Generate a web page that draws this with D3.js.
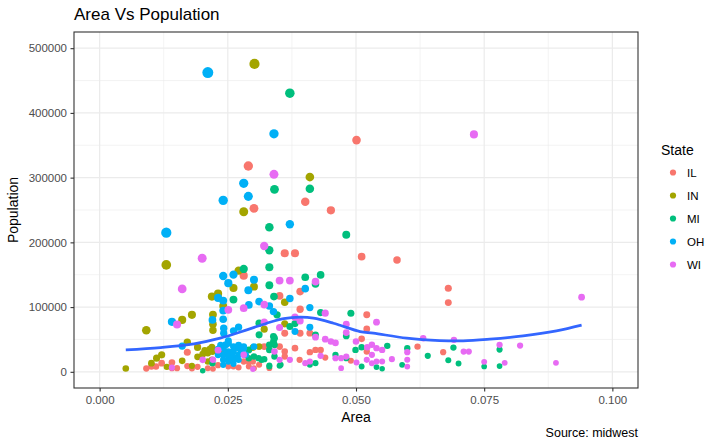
<!DOCTYPE html>
<html lang="en">
<head>
    <meta charset="UTF-8">
    <title>Area Vs Population</title>
    <style>
        body {
            margin: 0;
            background: #fff;
        }

        svg {
            display: block;
            font-family: "Liberation Sans", Arial, sans-serif;
        }
    </style>
</head>
<body>
    <svg id="chart" width="720" height="445"></svg>

    <script src="https://cdn.jsdelivr.net/npm/d3@7/dist/d3.min.js"></script>
    <script>
        // values
        const states = ["IL", "IN", "MI", "OH", "WI"];
        const stateColors = ["#F8766D", "#A3A500", "#00BF7D", "#00B0F6", "#E76BF3"];

        const ilArea = [0.0501, 0.0290, 0.0401, 0.0301, 0.0451, 0.0361, 0.0381, 0.0511, 0.0580, 0.0281,
            0.0351, 0.0391, 0.0680, 0.0680, 0.0391, 0.0521, 0.0521, 0.0361, 0.0391, 0.0410,
            0.0511, 0.0620, 0.0670, 0.0171, 0.0191, 0.0171, 0.0091, 0.0101, 0.0110, 0.0121,
            0.0141, 0.0141, 0.0151, 0.0180, 0.0191, 0.0211, 0.0221, 0.0231, 0.0251, 0.0261,
            0.0271, 0.0281, 0.0291, 0.0291, 0.0299, 0.0301, 0.0311, 0.0331, 0.0321, 0.0351,
            0.0361, 0.0361, 0.0381, 0.0410, 0.0421, 0.0431, 0.0440, 0.0390, 0.0490, 0.0521];
        const ilPop = [358000, 317900, 262800, 252600, 249500, 183200, 183200, 177900, 172800, 148600,
            117300, 123900, 129100, 106900, 96700, 88000, 66300, 59700, 59700, 59700,
            50900, 39000, 30400, 30400, 39000, 8800, 5100, 8200, 8200, 13400,
            14300, 5700, 5700, 5100, 7700, 5700, 4600, 10300, 8200, 8200,
            6600, 15900, 15000, 8200, 15900, 5700, 11000, 5700, 39000, 39000,
            31300, 23600, 36600, 30400, 33900, 33900, 22100, 18500, 17000, 31300];

        const inArea = [0.0302, 0.0410, 0.0281, 0.0130, 0.0271, 0.0301, 0.0261, 0.0231, 0.0219, 0.0361,
            0.0241, 0.0221, 0.0180, 0.0161, 0.0221, 0.0361, 0.0321, 0.0221, 0.0091, 0.0171,
            0.0219, 0.0299, 0.0311, 0.0191, 0.0215, 0.0220, 0.0205, 0.0211, 0.0201, 0.0121,
            0.0191, 0.0111, 0.0219, 0.0161, 0.0211, 0.0101, 0.0180, 0.0131, 0.0051, 0.0241];
        const inPop = [475700, 300900, 247300, 165100, 156300, 131600, 129600, 120800, 116200, 107500,
            101800, 88400, 88000, 80200, 73600, 74100, 65900, 64300, 64300, 45800,
            38000, 37500, 39000, 37500, 35000, 31300, 33000, 28900, 27300, 26200,
            23100, 21100, 18500, 17000, 15900, 13400, 9300, 7700, 5100, 33900];

        const miArea = [0.0371, 0.0341, 0.0410, 0.0331, 0.0481, 0.0331, 0.0331, 0.0281, 0.0431, 0.0401,
            0.0421, 0.0331, 0.0340, 0.0261, 0.0431, 0.0490, 0.0346, 0.0311, 0.0381, 0.0371,
            0.0421, 0.0311, 0.0481, 0.0339, 0.0341, 0.0339, 0.0341, 0.0331, 0.0561, 0.0511,
            0.0600, 0.0690, 0.0780, 0.0291, 0.0331, 0.0499, 0.0460, 0.0640, 0.0341, 0.0301,
            0.0291, 0.0310, 0.0481, 0.0321, 0.0316, 0.0680, 0.0220, 0.0421, 0.0700, 0.0410,
            0.0590, 0.0353, 0.0331, 0.0351, 0.0780, 0.0750, 0.0511, 0.0331, 0.0540, 0.0551,
            0.0201];
        const miPop = [430500, 281900, 282800, 223300, 211900, 187800, 161600, 158900, 149700, 146100,
            135800, 133800, 116200, 111600, 91500, 90600, 88000, 75100, 74500, 69900,
            57100, 57100, 55500, 54500, 52000, 46800, 41700, 41700, 40100, 38100,
            36600, 37500, 34400, 33900, 33900, 33900, 26200, 24700, 23600, 23600,
            21100, 21100, 21100, 19600, 18500, 18000, 13400, 13400, 12800, 10800,
            10800, 10800, 9700, 9300, 8800, 8200, 8200, 8200, 7300, 4600,
            1500];

        const ohArea = [0.0211, 0.0340, 0.0281, 0.0290, 0.0241, 0.0371, 0.0130, 0.0261, 0.0241, 0.0301,
            0.0251, 0.0401, 0.0290, 0.0231, 0.0371, 0.0241, 0.0311, 0.0291, 0.0331, 0.0410,
            0.0241, 0.0339, 0.0241, 0.0220, 0.0141, 0.0410, 0.0271, 0.0242, 0.0261, 0.0381,
            0.0242, 0.0251, 0.0251, 0.0246, 0.0271, 0.0236, 0.0161, 0.0261, 0.0281, 0.0301,
            0.0271, 0.0241, 0.0281, 0.0231, 0.0251, 0.0261, 0.0246, 0.0276, 0.0256, 0.0281,
            0.0241, 0.0271, 0.0231, 0.0285, 0.0251, 0.0261, 0.0256, 0.0266, 0.0241, 0.0271,
            0.0251, 0.0261, 0.0241];
        const ohPop = [462400, 367700, 291200, 271100, 264900, 227900, 214900, 150100, 148100, 142400,
            136900, 128500, 126100, 114200, 113100, 110000, 108500, 103400, 101800, 99200,
            94600, 93000, 81300, 80200, 77200, 69000, 69000, 67400, 63300, 62200,
            59700, 48000, 44300, 42000, 41200, 41000, 39700, 39000, 39000, 39000,
            36600, 36600, 36600, 35000, 31300, 31300, 30000, 30000, 28000, 26700,
            26200, 26200, 26200, 26200, 23600, 22700, 20000, 20000, 18500, 18500,
            15900, 12300, 10800];

        const wiArea = [0.0730, 0.0340, 0.0321, 0.0200, 0.0351, 0.0371, 0.0421, 0.0161, 0.0940, 0.0321,
            0.0281, 0.0251, 0.0440, 0.0381, 0.0391, 0.0321, 0.0540, 0.0481, 0.0151, 0.0351,
            0.0481, 0.0421, 0.0631, 0.0440, 0.0691, 0.0451, 0.0500, 0.0460, 0.0531, 0.0780,
            0.0820, 0.0522, 0.0540, 0.0551, 0.0231, 0.0341, 0.0710, 0.0720, 0.0600, 0.0281,
            0.0531, 0.0431, 0.0481, 0.0471, 0.0460, 0.0570, 0.0201, 0.0221, 0.0351, 0.0371,
            0.0521, 0.0600, 0.0540, 0.0551, 0.0410, 0.0750, 0.0501, 0.0790, 0.0890, 0.0401,
            0.0531, 0.0600, 0.0141, 0.0471, 0.0299];
        const wiPop = [366800, 305100, 194400, 175400, 140900, 140900, 139300, 128100, 115300, 103800,
            98300, 95700, 90600, 84400, 78700, 76700, 76700, 73600, 73000, 68400,
            60600, 53500, 52000, 50500, 49400, 46800, 46800, 44700, 41700, 41700,
            40600, 38100, 36600, 33900, 33500, 31300, 31300, 31300, 30400, 26200,
            26200, 24700, 23600, 21100, 21100, 19600, 18500, 18500, 18500, 18500,
            18500, 18500, 15900, 15900, 15900, 15400, 14300, 13900, 13900, 13400,
            13400, 8200, 6600, 5700, 4200];

        // loess curve as it appears in the picture
        const smoothArea = [0.0051, 0.0119, 0.0184, 0.0235, 0.0287, 0.0326, 0.0359, 0.0391, 0.0417, 0.0456,
            0.0469, 0.0508, 0.0534, 0.0599, 0.0663, 0.0709, 0.0761, 0.0826, 0.0891, 0.0940];
        const smoothPop = [33900, 37500, 43200, 52000, 64800, 75100, 82200, 84400, 82900, 75100,
            71900, 62200, 59700, 52000, 48300, 47800, 50500, 55500, 63300, 72100];

        const xTicks = [0, 0.025, 0.05, 0.075, 0.1];
        const yTicks = [0, 100000, 200000, 300000, 400000, 500000];
        const xLimits = [0, 0.1];
        const yLimits = [0, 500000];
        // population / area range over the whole midwest data set (drives point size)
        const densityRange = [85000, 88018000];

        const areaByState = [ilArea, inArea, miArea, ohArea, wiArea];
        const popByState = [ilPop, inPop, miPop, ohPop, wiPop];

        // layout
        const panel = { left: 74, right: 638, top: 32, bottom: 388 };

        const xPad = (xLimits[1] - xLimits[0]) * 0.05;
        const yPad = (yLimits[1] - yLimits[0]) * 0.05;

        const x = d3.scaleLinear()
            .domain([xLimits[0] - xPad, xLimits[1] + xPad])
            .range([panel.left, panel.right]);
        const y = d3.scaleLinear()
            .domain([yLimits[0] - yPad, yLimits[1] + yPad])
            .range([panel.bottom, panel.top]);

        const color = d3.scaleOrdinal().domain(states).range(stateColors);
        const densityNorm = d3.scaleLinear().domain(densityRange).range([0, 1]).clamp(true);
        const radius = d => 2.75 + 5.5 * Math.sqrt(densityNorm(d));

        const svg = d3.select('#chart');

        // panel background + grid
        svg.append('rect')
            .attr('x', panel.left).attr('y', panel.top)
            .attr('width', panel.right - panel.left)
            .attr('height', panel.bottom - panel.top)
            .attr('fill', '#fff');

        const xMinor = d3.pairs(xTicks).map(p => (p[0] + p[1]) / 2);
        const yMinor = d3.pairs(yTicks).map(p => (p[0] + p[1]) / 2);

        const grid = svg.append('g');
        grid.selectAll('.xminor').data(xMinor).enter().append('line')
            .attr('x1', d => x(d)).attr('x2', d => x(d))
            .attr('y1', panel.top).attr('y2', panel.bottom)
            .attr('stroke', '#EBEBEB').attr('stroke-width', 0.6);
        grid.selectAll('.yminor').data(yMinor).enter().append('line')
            .attr('y1', d => y(d)).attr('y2', d => y(d))
            .attr('x1', panel.left).attr('x2', panel.right)
            .attr('stroke', '#EBEBEB').attr('stroke-width', 0.6);
        grid.selectAll('.xmajor').data(xTicks).enter().append('line')
            .attr('x1', d => x(d)).attr('x2', d => x(d))
            .attr('y1', panel.top).attr('y2', panel.bottom)
            .attr('stroke', '#EBEBEB').attr('stroke-width', 1.2);
        grid.selectAll('.ymajor').data(yTicks).enter().append('line')
            .attr('y1', d => y(d)).attr('y2', d => y(d))
            .attr('x1', panel.left).attr('x2', panel.right)
            .attr('stroke', '#EBEBEB').attr('stroke-width', 1.2);

        // points, one state after another
        svg.append('clipPath').attr('id', 'clip')
            .append('rect')
            .attr('x', panel.left).attr('y', panel.top)
            .attr('width', panel.right - panel.left)
            .attr('height', panel.bottom - panel.top);

        const plot = svg.append('g').attr('clip-path', 'url(#clip)');

        states.forEach((st, i) => {
            const pts = areaByState[i].map((a, j) => ({ area: a, pop: popByState[i][j] }));
            plot.append('g').selectAll('circle')
                .data(pts)
                .enter()
                .append('circle')
                .attr('cx', d => x(d.area))
                .attr('cy', d => y(d.pop))
                .attr('r', d => radius(d.pop / d.area))
                .attr('fill', color(st));
        });

        // smoothed line
        const smooth = smoothArea.map((a, i) => [a, smoothPop[i]]);
        plot.append('path')
            .datum(smooth)
            .attr('fill', 'none')
            .attr('stroke', '#3366FF')
            .attr('stroke-width', 2.7)
            .attr('d', d3.line().x(d => x(d[0])).y(d => y(d[1])).curve(d3.curveCatmullRom));

        // panel border
        svg.append('rect')
            .attr('x', panel.left).attr('y', panel.top)
            .attr('width', panel.right - panel.left)
            .attr('height', panel.bottom - panel.top)
            .attr('fill', 'none')
            .attr('stroke', '#333333')
            .attr('stroke-width', 1.1);

        // axes
        const xAxis = svg.append('g')
            .attr('transform', `translate(0,${panel.bottom})`)
            .call(d3.axisBottom(x).tickValues(xTicks).tickFormat(d3.format('.3f')).tickSize(3.5).tickPadding(4));
        const yAxis = svg.append('g')
            .attr('transform', `translate(${panel.left},0)`)
            .call(d3.axisLeft(y).tickValues(yTicks).tickFormat(d3.format('d')).tickSize(3.5).tickPadding(3.5));

        [xAxis, yAxis].forEach(g => {
            g.select('.domain').remove();
            g.selectAll('.tick line').attr('stroke', '#333333').attr('stroke-width', 1.1);
            g.selectAll('.tick text')
                .attr('fill', '#4D4D4D')
                .style('font-size', '11.5px')
                .style('font-family', '"Liberation Sans", Arial, sans-serif');
        });

        // titles
        svg.append('text')
            .attr('x', panel.left).attr('y', 20)
            .style('font-size', '17px')
            .text('Area Vs Population');

        svg.append('text')
            .attr('x', (panel.left + panel.right) / 2).attr('y', 421.5)
            .attr('text-anchor', 'middle')
            .style('font-size', '14px')
            .text('Area');

        svg.append('text')
            .attr('transform', `translate(17.5,${(panel.top + panel.bottom) / 2}) rotate(-90)`)
            .attr('text-anchor', 'middle')
            .style('font-size', '14px')
            .text('Population');

        svg.append('text')
            .attr('x', panel.right).attr('y', 437)
            .attr('text-anchor', 'end')
            .style('font-size', '12.5px')
            .text('Source: midwest');

        // legend
        const legend = svg.append('g');
        legend.append('text')
            .attr('x', 661).attr('y', 155)
            .style('font-size', '14px')
            .text('State');

        const keys = legend.selectAll('.key')
            .data(states)
            .enter()
            .append('g')
            .attr('transform', (d, i) => `translate(673,${172.5 + i * 23})`);
        keys.append('circle')
            .attr('r', 3.1)
            .attr('fill', d => color(d));
        keys.append('text')
            .attr('x', 14).attr('y', 4)
            .style('font-size', '11.5px')
            .text(d => d);
    </script>
</body>
</html>
